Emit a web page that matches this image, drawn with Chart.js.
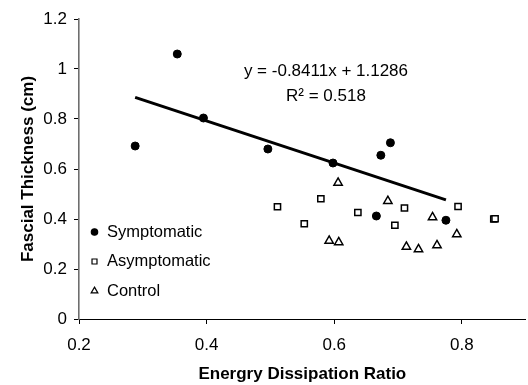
<!DOCTYPE html>
<html>
<head>
<meta charset="utf-8">
<script src="https://cdn.jsdelivr.net/npm/chart.js@4.4.0/dist/chart.umd.min.js"></script>
<style>
  html, body { margin: 0; padding: 0; background: #fff; overflow: hidden; }
  #wrap { width: 532px; height: 385px; }
</style>
</head>
<body>
<div id="wrap"><canvas id="fasciaChart"></canvas></div>
<script>
// values
var symptomatic_x = [0.288, 0.354, 0.395, 0.496, 0.598, 0.673, 0.688, 0.666, 0.775];
var symptomatic_y = [0.692, 1.06, 0.804, 0.68, 0.624, 0.655, 0.705, 0.412, 0.395];

var asymptomatic_x = [0.511, 0.553, 0.579, 0.637, 0.695, 0.710, 0.794, 0.850, 0.852];
var asymptomatic_y = [0.449, 0.381, 0.481, 0.426, 0.375, 0.444, 0.450, 0.400, 0.401];

var control_x = [0.606, 0.684, 0.754, 0.792, 0.592, 0.607, 0.713, 0.732, 0.761];
var control_y = [0.545, 0.472, 0.407, 0.339, 0.313, 0.307, 0.289, 0.279, 0.295];

// trend line of the symptomatic group
var trend_slope = -0.8411;
var trend_intercept = 1.1286;
var trend_label = "y = -0.8411x + 1.1286";
var r2_label = "R\u00B2 = 0.518";

var x_ticks = [0.2, 0.4, 0.6, 0.8];
var y_ticks = [0, 0.2, 0.4, 0.6, 0.8, 1, 1.2];

var font_family = "'Liberation Sans', Arial, sans-serif";

function to_points(xs, ys) {
  return xs.map((x, i) => ({ x: x, y: ys[i] }));
}

function trend_points() {
  var lo = Math.min(...symptomatic_x);
  var hi = Math.max(...symptomatic_x);
  return [
    { x: lo, y: trend_slope * lo + trend_intercept },
    { x: hi, y: trend_slope * hi + trend_intercept },
  ];
}

// legend drawn inside the plot, lower left, markers a bit smaller
var inside_legend = {
  id: "inside_legend",
  afterDatasetsDraw(chart) {
    const ctx = chart.ctx;
    const area = chart.chartArea;
    let y = area.top + 213;
    ctx.save();
    chart.data.datasets.forEach((ds) => {
      if (!ds.legendName) return;
      ctx.fillStyle = ds.backgroundColor;
      ctx.strokeStyle = ds.borderColor;
      ctx.lineWidth = 1.2;
      Chart.helpers.drawPoint(ctx, {
        pointStyle: ds.pointStyle,
        radius: ds.pointRadius * 0.8,
        borderWidth: 1.2,
        rotation: 0,
      }, area.left + 15.5, y);
      ctx.fillStyle = "#000";
      ctx.font = "16.5px " + font_family;
      ctx.textBaseline = "middle";
      ctx.textAlign = "left";
      ctx.fillText(ds.legendName, area.left + 28, y);
      y += 29.5;
    });
    ctx.restore();
  },
};

var trend_text = {
  id: "trend_text",
  afterDatasetsDraw(chart) {
    const ctx = chart.ctx;
    const xs = chart.scales.x;
    const ys = chart.scales.y;
    ctx.save();
    ctx.fillStyle = "#000";
    ctx.font = "17px " + font_family;
    ctx.textAlign = "center";
    ctx.textBaseline = "middle";
    ctx.fillText(trend_label, xs.getPixelForValue(0.587), ys.getPixelForValue(0.99));
    ctx.fillText(r2_label, xs.getPixelForValue(0.587), ys.getPixelForValue(0.89));
    ctx.restore();
  },
};

var ctx = document.getElementById("fasciaChart").getContext("2d");
var fasciaChart = new Chart(ctx, {
  type: "scatter",
  data: {
    datasets: [
      {
        label: "trend",
        data: trend_points(),
        showLine: true,
        borderColor: "#000",
        borderWidth: 3,
        pointRadius: 0,
        fill: false,
      },
      {
        label: "Symptomatic",
        legendName: "Symptomatic",
        data: to_points(symptomatic_x, symptomatic_y),
        pointStyle: "circle",
        pointRadius: 4,
        backgroundColor: "#000",
        borderColor: "#000",
        borderWidth: 1,
      },
      {
        label: "Asymptomatic",
        legendName: "Asymptomatic",
        data: to_points(asymptomatic_x, asymptomatic_y),
        pointStyle: "rect",
        pointRadius: 4.4,
        backgroundColor: "#fff",
        borderColor: "#000",
        borderWidth: 1.5,
      },
      {
        label: "Control",
        legendName: "Control",
        data: to_points(control_x, control_y),
        pointStyle: "triangle",
        pointRadius: 4.8,
        backgroundColor: "#fff",
        borderColor: "#000",
        borderWidth: 1.5,
      },
    ],
  },
  options: {
    responsive: true,
    maintainAspectRatio: false,
    animation: false,
    layout: { padding: { top: 19, right: 0, left: 0, bottom: 0 } },
    plugins: {
      legend: { display: false },
      tooltip: { enabled: false },
    },
    scales: {
      x: {
        type: "linear",
        min: 0.2,
        max: 0.9,
        afterBuildTicks: (scale) => {
          scale.ticks = x_ticks.map((v) => ({ value: v }));
        },
        afterFit: (scale) => {
          scale.height = 66;
        },
        ticks: {
          color: "#000",
          padding: 11,
          font: { size: 17, family: font_family },
          callback: (v) => String(v),
        },
        grid: {
          display: true,
          drawOnChartArea: false,
          drawTicks: true,
          tickLength: 5,
          color: "#000",
        },
        border: { display: true, color: "#000", width: 1 },
        title: {
          display: true,
          text: "Energry Dissipation Ratio",
          color: "#000",
          font: { size: 17, weight: "bold", family: font_family },
          padding: { top: 0, bottom: 0 },
        },
      },
      y: {
        type: "linear",
        min: 0,
        max: 1.2,
        afterBuildTicks: (scale) => {
          scale.ticks = y_ticks.map((v) => ({ value: v }));
        },
        afterFit: (scale) => {
          scale.width = 79;
        },
        ticks: {
          color: "#000",
          padding: 7,
          font: { size: 17, family: font_family },
          callback: (v) => String(v),
        },
        grid: {
          display: true,
          drawOnChartArea: false,
          drawTicks: true,
          tickLength: 5,
          color: "#000",
        },
        border: { display: true, color: "#6e6e6e", width: 1.6 },
        title: {
          display: true,
          text: "Fascial Thickness (cm)",
          color: "#000",
          font: { size: 17, weight: "bold", family: font_family },
          padding: { top: 18, bottom: 0 },
        },
      },
    },
  },
  plugins: [inside_legend, trend_text],
});
</script>
</body>
</html>
